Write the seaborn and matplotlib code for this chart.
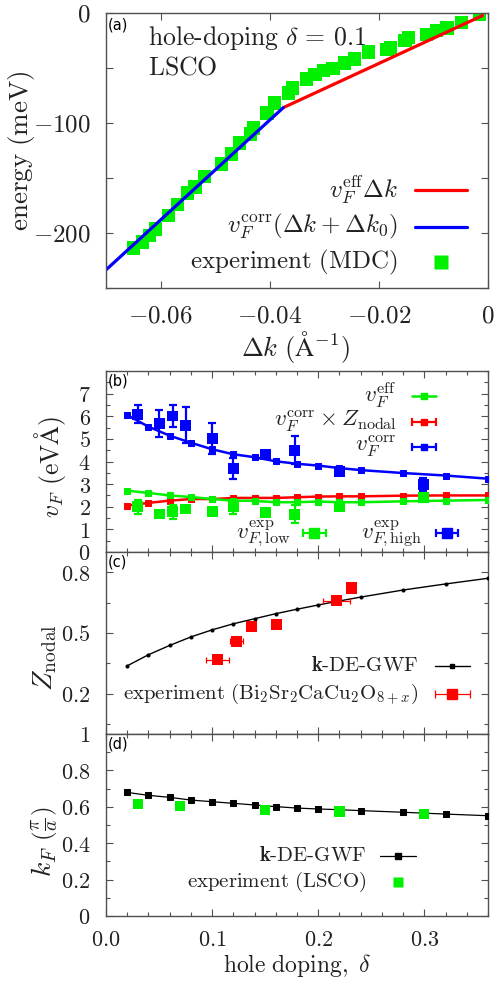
import numpy as np
import pandas as pd
import matplotlib
matplotlib.use("Agg")
import matplotlib.pyplot as plt
import seaborn as sns
from matplotlib.ticker import MultipleLocator, FixedLocator, FuncFormatter, NullFormatter

# ---------------- data: panel (a) ----------------
mdc_dk = [-0.0650, -0.0633, -0.0621, -0.0610, -0.0586, -0.0569, -0.0550, -0.0537,
          -0.0520, -0.0488, -0.0470, -0.0456, -0.0435, -0.0430, -0.0405, -0.0391,
          -0.0366, -0.0358, -0.0332, -0.0317, -0.0302, -0.0284, -0.0263, -0.0244,
          -0.0219, -0.0185, -0.0178, -0.0152, -0.0145, -0.0112, -0.0094, -0.0075,
          -0.0049, -0.0016]
mdc_E = [-213.6, -208.2, -202.5, -196.4, -184.3, -174.3, -163.6, -158.2,
         -148.5, -137.3, -128.2, -118.2, -110.0, -104.5, -90.9, -81.8,
         -72.7, -68.2, -60.0, -56.1, -52.2, -50.6, -45.5, -41.8,
         -35.5, -33.4, -31.5, -24.9, -22.0, -19.7, -15.8, -13.6,
         -8.5, -1.5]
eff_line_dk = [-0.0375, -0.0010]
eff_line_E = [-86.0, -2.3]
corr_line_dk = [-0.0700, -0.0375]
corr_line_E = [-233.5, -86.0]

# ---------------- data: panels (b)-(d) ----------------
delta_th = [0.02, 0.04, 0.06, 0.08, 0.10, 0.12, 0.14, 0.16, 0.18, 0.20, 0.22, 0.24, 0.28, 0.32, 0.36]
vF_corr = [6.05, 5.54, 5.14, 4.83, 4.54, 4.32, 4.19, 4.01, 3.90, 3.82, 3.71, 3.62, 3.49, 3.38, 3.24]
vF_corrZ = [2.05, 2.17, 2.27, 2.34, 2.34, 2.39, 2.39, 2.39, 2.42, 2.45, 2.46, 2.46, 2.49, 2.50, 2.50]
vF_eff = [2.71, 2.61, 2.50, 2.43, 2.34, 2.27, 2.26, 2.20, 2.20, 2.23, 2.20, 2.20, 2.24, 2.27, 2.30]

delta_exp_b = [0.030, 0.050, 0.063, 0.075, 0.100, 0.120, 0.150, 0.178, 0.220, 0.299]
vF_high = [6.09, 5.68, 6.01, 5.60, 5.01, 3.69, 4.30, 4.50, 3.57, 2.99]
vF_high_err = [0.39, 0.60, 0.48, 0.80, 0.70, 0.48, 0.10, 0.62, 0.10, 0.30]
vF_low = [2.00, 1.68, 1.78, 1.90, 1.81, 2.00, 1.73, 1.66, 2.00, 2.40]
vF_low_err = [0.30, 0.10, 0.30, 0.10, 0.10, 0.30, 0.05, 0.40, 0.10, 0.20]

Z_nodal = [0.337, 0.392, 0.438, 0.480, 0.515, 0.545, 0.570, 0.595, 0.617, 0.638, 0.658, 0.677, 0.712, 0.742, 0.770]
delta_exp_c = [0.105, 0.123, 0.137, 0.161, 0.217, 0.231]
Z_exp = [0.367, 0.458, 0.530, 0.540, 0.660, 0.722]
Z_exp_xerr = [0.0107, 0.006, 0.0, 0.0, 0.0127, 0.0]
Z_exp_yerr = [0.015, 0.010, 0.0, 0.0, 0.005, 0.0]

kF_th = [0.679, 0.663, 0.652, 0.637, 0.628, 0.619, 0.610, 0.601, 0.593, 0.588, 0.584, 0.579, 0.570, 0.560, 0.551]
delta_exp_d = [0.030, 0.070, 0.150, 0.220, 0.300]
kF_exp = [0.615, 0.604, 0.582, 0.575, 0.562]

# ---------------- style ----------------
sns.set_style("ticks")
plt.rcParams["mathtext.fontset"] = "cm"
plt.rcParams["font.family"] = ["DejaVu Serif"]

GREEN = "#00f000"
RED = "#ff0000"
BLUE = "#0000ff"
SPINE = "#505050"
TXT = "#222222"

W, H = 494, 981
fig = plt.figure(figsize=(W / 100, H / 100), dpi=100)


def axrect(x0, x1, ytop, ybot):
    return [x0 / W, 1 - ybot / H, (x1 - x0) / W, (ybot - ytop) / H]


axa = fig.add_axes(axrect(106, 488, 13, 288))
axb = fig.add_axes(axrect(106, 488, 371, 552))
axc = fig.add_axes(axrect(106, 488, 552, 734))
axd = fig.add_axes(axrect(106, 488, 734, 916))


def style_axes(ax, fs, pad):
    for s in ax.spines.values():
        s.set_color(SPINE)
        s.set_linewidth(1.0)
    ax.tick_params(which="both", direction="in", top=True, right=True,
                   color=SPINE, width=0.8, labelsize=fs, pad=pad, labelcolor=TXT)
    ax.tick_params(which="major", length=5)
    ax.tick_params(which="minor", length=2.8)
    ax.grid(False)


def set_labels(ax, xlabel, xfs, xcoords, ylabel, yfs, ycoords):
    if xlabel:
        ax.set_xlabel(xlabel, fontsize=xfs, color=TXT, va="center", ha="center")
        ax.xaxis.set_label_coords(*xcoords)
    else:
        ax.set_xlabel("")
    ax.set_ylabel(ylabel, fontsize=yfs, color=TXT, va="center", ha="center")
    ax.yaxis.set_label_coords(*ycoords)


# ---------------- panel (a) ----------------
ax = axa
sns.lineplot(x=eff_line_dk, y=eff_line_E, ax=ax, color=RED, lw=2.3, sort=False)
sns.lineplot(x=corr_line_dk, y=corr_line_E, ax=ax, color=BLUE, lw=2.3, sort=False)
sns.scatterplot(x=mdc_dk, y=mdc_E, ax=ax, marker="s", s=90, color=GREEN,
                edgecolor="none", linewidth=0, zorder=1)
ax.set_xlim(-0.07, 0.0)
ax.set_ylim(-250, 0)
style_axes(ax, 18, 11)
ax.tick_params(axis="x", pad=12)
ax.xaxis.set_major_locator(FixedLocator([-0.06, -0.04, -0.02, 0.0]))
ax.xaxis.set_major_formatter(FuncFormatter(lambda v, p: "$0$" if abs(v) < 1e-9 else "$%.2f$" % v))
ax.yaxis.set_major_locator(FixedLocator([-250, -200, -150, -100, -50, 0]))
ax.yaxis.set_major_formatter(FuncFormatter(
    lambda v, p: ("$%d$" % round(v)) if (round(v) % 100 == 0 and round(v) > -250) else ""))
set_labels(ax, r"$\Delta k\ (\mathrm{\AA}^{-1})$", 19, (0.495, -0.215),
           r"$\mathrm{energy\ (meV)}$", 19.5, (-0.22, 0.5))
ax.text(0.11, 0.885, r"$\text{hole-doping}\ \delta\, =\, 0.1$", transform=ax.transAxes,
        fontsize=18.5, color=TXT, va="baseline", ha="left")
ax.text(0.11, 0.775, r"$\mathrm{LSCO}$", transform=ax.transAxes,
        fontsize=18.5, color=TXT, va="baseline", ha="left")

# manual key (a)
key_a = [(r"$v_F^{\mathrm{eff}}\Delta k$", 0.356, "line", RED),
         (r"$v_F^{\mathrm{corr}}(\Delta k + \Delta k_0)$", 0.222, "line", BLUE),
         (r"$\mathrm{experiment\ (MDC)}$", 0.0945, "marker", GREEN)]
for lab, yy, kind, col in key_a:
    ax.text(0.764, yy, lab, transform=ax.transAxes, fontsize=18, color=TXT,
            ha="right", va="center")
    if kind == "line":
        ax.plot([0.809, 0.945], [yy, yy], transform=ax.transAxes, color=col, lw=2.3,
                clip_on=False)
    else:
        ax.plot([0.877], [yy], transform=ax.transAxes, marker="s", ms=9.5, color=col,
                mec="none", ls="none", clip_on=False)

# ---------------- panel (b) ----------------
ax = axb
sns.lineplot(x=delta_th, y=vF_corr, ax=ax, color=BLUE, lw=1.8, marker="s", ms=4.5,
             mec=BLUE, zorder=3)
sns.lineplot(x=delta_th, y=vF_corrZ, ax=ax, color=RED, lw=1.8, marker="s", ms=4.5,
             mec=RED, zorder=3)
sns.lineplot(x=delta_th, y=vF_eff, ax=ax, color=GREEN, lw=1.8, marker="s", ms=4.5,
             mec=GREEN, zorder=3)
ax.errorbar(delta_exp_b, vF_high, yerr=vF_high_err, fmt="none", ecolor=BLUE,
            elinewidth=1.6, capsize=3, capthick=1.6, zorder=4)
sns.scatterplot(x=delta_exp_b, y=vF_high, ax=ax, marker="s", s=62, color=BLUE,
                edgecolor="none", linewidth=0, zorder=5)
ax.errorbar(delta_exp_b, vF_low, yerr=vF_low_err, fmt="none", ecolor=GREEN,
            elinewidth=1.6, capsize=3, capthick=1.6, zorder=4)
sns.scatterplot(x=delta_exp_b, y=vF_low, ax=ax, marker="s", s=62, color=GREEN,
                edgecolor="none", linewidth=0, zorder=5)
ax.set_xlim(0, 0.36)
ax.set_ylim(0, 8)
style_axes(ax, 16, 11)
ax.xaxis.set_major_locator(MultipleLocator(0.1))
ax.xaxis.set_minor_locator(MultipleLocator(0.02))
ax.xaxis.set_major_formatter(NullFormatter())
ax.yaxis.set_major_locator(FixedLocator(list(range(0, 8))))
ax.yaxis.set_minor_locator(MultipleLocator(0.5))
ax.yaxis.set_major_formatter(FuncFormatter(lambda v, p: "$%d$" % round(v)))
set_labels(ax, None, 0, None, r"$v_F\ (\mathrm{eV\AA})$", 18.5, (-0.147, 0.47))


def key_entry(ax, lab, tx, yy, x0, x1, col, fs, ms, lw, caps):
    ax.text(tx, yy, lab, transform=ax.transAxes, fontsize=fs, color=TXT,
            ha="right", va="center")
    ax.plot([x0, x1], [yy, yy], transform=ax.transAxes, color=col, lw=lw, clip_on=False)
    if caps:
        ax.plot([x0, x1], [yy, yy], transform=ax.transAxes, color=col, ls="none",
                marker="|", ms=6, mew=lw, clip_on=False)
    if ms:
        ax.plot([(x0 + x1) / 2], [yy], transform=ax.transAxes, color=col, ls="none",
                marker="s", ms=ms, mec=col, clip_on=False)


key_entry(ax, r"$v_F^{\mathrm{eff}}$", 0.761, 0.864, 0.80, 0.864, GREEN, 16.5, 4.5, 1.8, False)
key_entry(ax, r"$v_F^{\mathrm{corr}}\times Z_{\mathrm{nodal}}$", 0.761, 0.720, 0.80, 0.864, RED, 16.5, 4.5, 1.6, True)
key_entry(ax, r"$v_F^{\mathrm{corr}}$", 0.761, 0.582, 0.80, 0.864, BLUE, 16.5, 4.5, 1.6, True)
key_entry(ax, r"$v^{\mathrm{exp}}_{F,\mathrm{low}}$", 0.482, 0.103, 0.516, 0.575, GREEN, 16.5, 7, 1.6, True)
key_entry(ax, r"$v^{\mathrm{exp}}_{F,\mathrm{high}}$", 0.826, 0.103, 0.864, 0.922, BLUE, 16.5, 7, 1.6, True)

# ---------------- panel (c) ----------------
ax = axc
sns.lineplot(x=delta_th, y=Z_nodal, ax=ax, color="black", lw=1.0, marker="o", ms=2.2,
             mec="black", zorder=3)
ax.errorbar(delta_exp_c, Z_exp, xerr=Z_exp_xerr, yerr=Z_exp_yerr, fmt="none",
            ecolor=RED, elinewidth=0.9, capsize=2.5, capthick=0.9, zorder=4)
sns.scatterplot(x=delta_exp_c, y=Z_exp, ax=ax, marker="s", s=64, color=RED,
                edgecolor="none", linewidth=0, zorder=5)
ax.set_xlim(0, 0.36)
ax.set_ylim(0, 0.9)
style_axes(ax, 16, 11)
ax.xaxis.set_major_locator(MultipleLocator(0.1))
ax.xaxis.set_minor_locator(MultipleLocator(0.02))
ax.xaxis.set_major_formatter(NullFormatter())
ax.yaxis.set_major_locator(FixedLocator([0.2, 0.5, 0.8]))
ax.yaxis.set_minor_locator(FixedLocator([0.05, 0.35, 0.65]))
ax.yaxis.set_major_formatter(FuncFormatter(lambda v, p: "$%.1f$" % v))
set_labels(ax, None, 0, None, r"$Z_{\mathrm{nodal}}$", 20, (-0.16, 0.42))
key_entry(ax, r"$\mathbf{k}\text{-DE-GWF}$", 0.817, 0.375, 0.861, 0.953, "black", 15, 2.2, 1.0, False)
key_entry(ax, r"$\mathrm{experiment\ (Bi_2Sr_2CaCu_2O}_{8+x}\mathrm{)}$", 0.817, 0.220,
          0.861, 0.953, RED, 15, 7.5, 0.9, True)

# ---------------- panel (d) ----------------
ax = axd
sns.lineplot(x=delta_th, y=kF_th, ax=ax, color="black", lw=0.9, marker="s", ms=4.5,
             mec="black", zorder=3)
sns.scatterplot(x=delta_exp_d, y=kF_exp, ax=ax, marker="s", s=55, color=GREEN,
                edgecolor="none", linewidth=0, zorder=5)
ax.set_xlim(0, 0.36)
ax.set_ylim(0, 1.0)
style_axes(ax, 16, 11)
ax.tick_params(axis="x", pad=9)
ax.xaxis.set_major_locator(MultipleLocator(0.1))
ax.xaxis.set_minor_locator(MultipleLocator(0.02))
ax.xaxis.set_major_formatter(FuncFormatter(lambda v, p: "$%.1f$" % v))
ax.yaxis.set_major_locator(FixedLocator([0, 0.2, 0.4, 0.6, 0.8, 1.0]))
ax.yaxis.set_minor_locator(MultipleLocator(0.1))
ax.yaxis.set_major_formatter(FuncFormatter(
    lambda v, p: "$%d$" % round(v) if abs(v - round(v)) < 1e-9 else "$%.1f$" % v))
set_labels(ax, r"$\mathrm{hole\ doping,}\ \delta$", 17, (0.5, -0.27),
           r"$k_F\ \left(\frac{\pi}{a}\right)$", 20, (-0.16, 0.41))
key_entry(ax, r"$\mathbf{k}\text{-DE-GWF}$", 0.682, 0.330, 0.718, 0.812, "black", 15, 4.5, 0.9, False)
ax.text(0.682, 0.189, r"$\mathrm{experiment\ (LSCO)}$", transform=ax.transAxes,
        fontsize=15, color=TXT, ha="right", va="center")
ax.plot([0.764], [0.189], transform=ax.transAxes, marker="s", ms=7, color=GREEN,
        mec="none", ls="none", clip_on=False)

# panel tags
for axx, tag in [(axa, "(a)"), (axb, "(b)"), (axc, "(c)"), (axd, "(d)")]:
    axx.text(0.004, 0.985, tag, transform=axx.transAxes, fontsize=10.5,
             family="DejaVu Sans", color="black", ha="left", va="top")

fig.savefig("out.png", dpi=100)
